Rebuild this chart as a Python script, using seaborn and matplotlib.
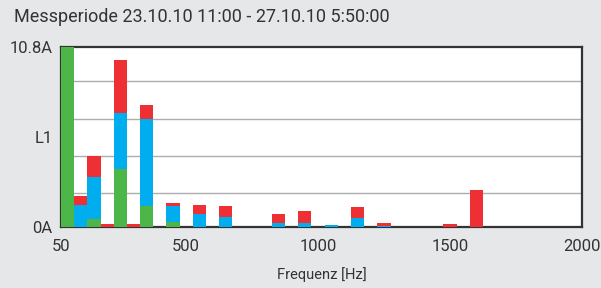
import numpy as np
import pandas as pd
import matplotlib
matplotlib.use("Agg")
import matplotlib.pyplot as plt
import seaborn as sns

# Harmonic frequencies (Hz) and stacked segment heights (A)
freqs = [50, 100, 150, 200, 250, 300, 350, 450, 550, 650, 850, 950, 1050, 1150, 1250, 1500, 1600]
green = [10.8, 0, 0.46, 0, 3.44, 0, 1.26, 0.30, 0, 0, 0, 0, 0, 0, 0, 0, 0]
blue = [0, 1.30, 2.54, 0, 3.40, 0, 5.18, 0.96, 0.78, 0.58, 0.22, 0.22, 0.10, 0.54, 0.06, 0, 0]
red = [0, 0.56, 1.24, 0.18, 3.16, 0.18, 0.86, 0.16, 0.54, 0.68, 0.56, 0.74, 0, 0.66, 0.18, 0.18, 2.20]

x_ticks = [25, 500, 1000, 1500, 2000]
x_labels = ["50", "500", "1000", "1500", "2000"]
y_ticks = [0, 5.4, 10.8]
y_labels = ["0A", "L1", "10.8A"]
y_grid = [2.0, 4.24, 6.48, 8.76]
title = "Messperiode 23.10.10 11:00 - 27.10.10 5:50:00"
xlabel = "Frequenz [Hz]"

df = pd.concat([
    pd.DataFrame({"f": freqs, "v": green, "s": "green"}),
    pd.DataFrame({"f": freqs, "v": blue, "s": "blue"}),
    pd.DataFrame({"f": freqs, "v": red, "s": "red"}),
], ignore_index=True)

sns.set_theme(style="white")
plt.rcParams["font.family"] = ["Roboto", "DejaVu Sans"]
bg = "#e6e7e8"
fig = plt.figure(figsize=(6.01, 2.88), dpi=100, facecolor=bg)
ax = fig.add_axes([0.1015, 0.2128, 0.8665, 0.625])
ax.set_facecolor("white")

palette = {"green": "#4cb748", "blue": "#00adee", "red": "#ee3035"}
sns.histplot(data=df, x="f", weights="v", hue="s", hue_order=["red", "blue", "green"],
             multiple="stack", binwidth=50, binrange=(25, 2025), palette=palette,
             alpha=1, linewidth=0, shrink=1.0, legend=False, ax=ax, zorder=3)

ax.set_xlim(25, 2000)
ax.set_ylim(0, 10.8)
ax.set_xticks(x_ticks)
ax.set_xticklabels(x_labels)
ax.set_yticks(y_ticks)
ax.set_yticklabels(y_labels)
ax.set_yticks(y_grid, minor=True)
ax.set_xticks([500, 1000, 1500], minor=True)
ax.grid(False)
ax.grid(True, which="minor", color="#adadad", linewidth=1.0, zorder=1)
ax.set_axisbelow(True)
ax.tick_params(which="both", length=0)
ax.tick_params(axis="x", pad=9, labelsize=12, labelcolor="#333333")
ax.tick_params(axis="y", pad=6, labelsize=12, labelcolor="#333333")
ax.set_xlabel(xlabel, fontsize=10.5, color="#333333", labelpad=9)
ax.set_ylabel("")
for sp in ax.spines.values():
    sp.set_visible(True)
    sp.set_color("#333333")
    sp.set_linewidth(1.6)

fig.text(14 / 601, 1 - 17 / 288, title, fontsize=13, color="#333333", va="center", ha="left")

fig.savefig("out.png", dpi=100, facecolor=bg)
